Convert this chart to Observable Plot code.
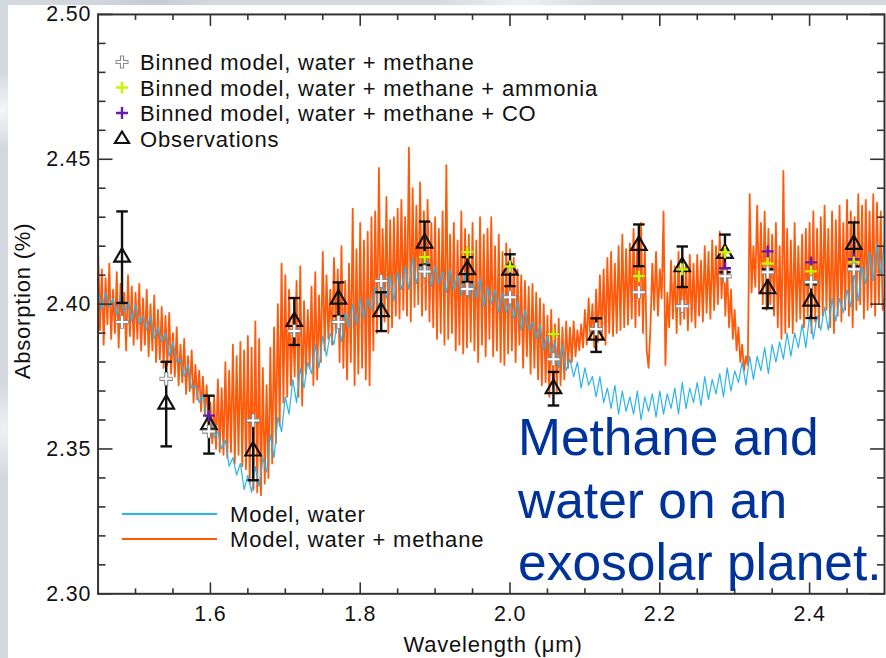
<!DOCTYPE html>
<html>
<head>
<meta charset="utf-8">
<script src="https://cdn.jsdelivr.net/npm/d3@7"></script>
<script src="https://cdn.jsdelivr.net/npm/@observablehq/plot@0.6"></script>
<style>
html, body { margin:0; padding:0; width:886px; height:658px; overflow:hidden; }
body { position:relative; background:#d3d8de;
  background-image:
    radial-gradient(circle at 2px 110px, #f4f5f7 0, rgba(255,255,255,0) 40px),
    radial-gradient(circle at 4px 430px, #eef0f3 0, rgba(255,255,255,0) 50px),
    radial-gradient(circle at 520px 0px, #eef1f4 0, rgba(255,255,255,0) 90px),
    radial-gradient(circle at 150px 2px, #c4cbd3 0, rgba(255,255,255,0) 60px);
  font-family: "Liberation Sans", Arial, sans-serif; }
#panel { position:absolute; left:8px; top:5px; right:0; bottom:0; background:#fff; }
#chart { position:absolute; left:0; top:0; }
#overlay { position:absolute; left:0; top:0; }
</style>
</head>
<body>
<div id="panel"></div>
<div id="chart"></div>
<svg id="overlay" width="886" height="658" xmlns="http://www.w3.org/2000/svg">
  <g font-family="Liberation Sans, Arial, sans-serif" font-size="22" letter-spacing="0.8" fill="#111">
    <text x="140" y="70">Binned model, water + methane</text>
    <text x="140" y="95.5">Binned model, water + methane + ammonia</text>
    <text x="140" y="121">Binned model, water + methane + CO</text>
    <text x="140" y="146.5">Observations</text>
    <text x="230" y="522">Model, water</text>
    <text x="230" y="547">Model, water + methane</text>
    <text x="493" y="652" text-anchor="middle">Wavelength (μm)</text>
    <text transform="translate(30,301) rotate(-90)" text-anchor="middle">Absorption (%)</text>
  </g>
  <path d="M115.5,62H128.5M122,55.5V68.5" stroke="#8c8c8c" stroke-width="4.2" fill="none"/>
  <path d="M116.5,62H127.5M122,56.5V67.5" stroke="#fff" stroke-width="2" fill="none"/>
  <path d="M116,87.5H128M122,81.5V93.5" stroke="#c8f500" stroke-width="2.4" fill="none"/>
  <path d="M116,113H128M122,107V119" stroke="#6a1aa8" stroke-width="2.4" fill="none"/>
  <path d="M122,131.5L129,143L115,143Z" stroke="#111" stroke-width="2.2" fill="none"/>
  <line x1="122" y1="514" x2="217" y2="514" stroke="#2ab4ee" stroke-width="2"/>
  <line x1="122" y1="539" x2="217" y2="539" stroke="#ff5a0a" stroke-width="2"/>
  <g font-family="Liberation Sans, Arial, sans-serif" font-size="51.5" fill="#003399">
    <text x="518" y="455">Methane and</text>
    <text x="518" y="518">water on an</text>
    <text x="518" y="580">exosolar planet.</text>
  </g>
</svg>
<script>
// ---- Data ----
// Model, water: sampled every 0.005 µm from 1.45 µm
const waterStart = 1.45;
const waterStep = 0.005;
const waterModel = [
  2.405,2.398,2.404,2.399,2.402,2.396,2.403,2.397,2.401,2.394,
  2.400,2.393,2.396,2.391,2.396,2.388,2.392,2.387,2.390,2.382,
  2.387,2.380,2.381,2.375,2.379,2.371,2.372,2.366,2.369,2.360,
  2.362,2.354,2.356,2.350,2.353,2.344,2.347,2.341,2.345,2.336,
  2.341,2.335,2.344,2.337,2.347,2.342,2.355,2.347,2.361,2.356,
  2.368,2.362,2.374,2.366,2.378,2.371,2.380,2.376,2.386,2.378,
  2.389,2.382,2.390,2.386,2.395,2.387,2.397,2.392,2.400,2.393,
  2.402,2.395,2.402,2.398,2.406,2.398,2.407,2.402,2.410,2.401,
  2.411,2.405,2.413,2.405,2.416,2.407,2.414,2.409,2.415,2.406,
  2.413,2.407,2.411,2.404,2.412,2.405,2.410,2.403,2.411,2.402,
  2.408,2.402,2.409,2.399,2.406,2.400,2.405,2.397,2.404,2.397,
  2.401,2.395,2.401,2.391,2.398,2.391,2.394,2.388,2.393,2.384,
  2.389,2.383,2.387,2.378,2.386,2.377,2.381,2.375,2.380,2.371,
  2.378,2.372,2.375,2.368,2.375,2.366,2.371,2.364,2.372,2.362,
  2.370,2.363,2.368,2.362,2.370,2.360,2.368,2.363,2.369,2.361,
  2.370,2.362,2.369,2.364,2.371,2.362,2.373,2.364,2.371,2.366,
  2.373,2.365,2.375,2.367,2.374,2.369,2.376,2.368,2.378,2.370,
  2.377,2.373,2.380,2.372,2.382,2.374,2.382,2.377,2.385,2.376,
  2.386,2.380,2.387,2.381,2.390,2.382,2.390,2.385,2.393,2.385,
  2.396,2.388,2.396,2.391,2.399,2.391,2.402,2.394,2.402,2.397,
  2.405,2.399,2.411,2.401,2.413,2.407,2.418,2.408,2.421,2.410,
  2.422
];

// Model, water + methane: sampled every 0.0025 µm from 1.45 µm
const methaneStart = 1.45;
const methaneStep = 0.0025;
const waterMethaneModel = [
  2.420,2.391,2.412,2.386,2.409,2.393,2.414,2.388,2.405,2.390,2.411,2.385,2.407,2.392,2.404,2.384,2.410,2.389,2.406,2.386,
  2.404,2.388,2.407,2.384,2.402,2.386,2.405,2.382,2.400,2.384,2.403,2.380,2.398,2.381,2.399,2.378,2.396,2.379,2.397,2.376,
  2.390,2.375,2.392,2.372,2.386,2.373,2.388,2.369,2.382,2.370,2.384,2.366,2.379,2.367,2.377,2.363,2.375,2.362,2.372,2.357,
  2.366,2.352,2.368,2.350,2.374,2.349,2.371,2.348,2.380,2.347,2.377,2.349,2.386,2.345,2.382,2.348,2.387,2.344,2.384,2.343,
  2.389,2.338,2.385,2.336,2.394,2.335,2.388,2.334,2.378,2.338,2.372,2.340,2.385,2.345,2.392,2.352,2.400,2.358,2.414,2.366,
  2.410,2.368,2.405,2.372,2.396,2.375,2.408,2.368,2.413,2.365,2.401,2.376,2.398,2.378,2.406,2.372,2.411,2.374,2.403,2.380,
  2.418,2.384,2.410,2.388,2.405,2.386,2.416,2.390,2.412,2.380,2.420,2.378,2.408,2.374,2.414,2.380,2.433,2.372,2.419,2.376,
  2.428,2.378,2.422,2.374,2.425,2.372,2.430,2.384,2.432,2.390,2.447,2.392,2.426,2.394,2.437,2.390,2.429,2.392,2.430,2.396,
  2.433,2.395,2.436,2.398,2.430,2.396,2.454,2.394,2.440,2.399,2.434,2.400,2.442,2.396,2.432,2.398,2.436,2.394,2.428,2.392,
  2.430,2.388,2.426,2.390,2.432,2.386,2.448,2.388,2.424,2.390,2.428,2.384,2.422,2.386,2.432,2.383,2.426,2.385,2.424,2.387,
  2.428,2.384,2.422,2.380,2.430,2.386,2.424,2.382,2.426,2.388,2.430,2.382,2.420,2.384,2.424,2.380,2.418,2.379,2.421,2.383,
  2.419,2.384,2.416,2.380,2.412,2.386,2.410,2.378,2.408,2.382,2.406,2.376,2.407,2.378,2.404,2.374,2.402,2.372,2.400,2.373,
  2.396,2.368,2.398,2.371,2.393,2.369,2.395,2.372,2.392,2.374,2.394,2.378,2.392,2.380,2.394,2.382,2.391,2.384,2.393,2.385,
  2.398,2.386,2.402,2.388,2.400,2.385,2.405,2.387,2.410,2.388,2.412,2.386,2.416,2.390,2.418,2.389,2.414,2.390,2.420,2.391,
  2.424,2.392,2.419,2.393,2.421,2.395,2.426,2.392,2.422,2.396,2.428,2.390,2.420,2.384,2.378,2.392,2.414,2.398,2.418,2.396,
  2.412,2.402,2.432,2.379,2.404,2.392,2.415,2.395,2.413,2.390,2.418,2.393,2.416,2.395,2.414,2.391,2.417,2.394,2.414,2.392,
  2.417,2.396,2.415,2.394,2.420,2.397,2.418,2.395,2.422,2.398,2.420,2.400,2.425,2.402,2.420,2.396,2.412,2.392,2.405,2.388,
  2.398,2.384,2.392,2.380,2.386,2.377,2.382,2.379,2.438,2.404,2.420,2.406,2.434,2.404,2.428,2.400,2.432,2.398,2.426,2.400,
  2.424,2.396,2.428,2.392,2.420,2.388,2.446,2.390,2.426,2.392,2.422,2.390,2.428,2.394,2.420,2.395,2.424,2.392,2.426,2.396,
  2.428,2.390,2.432,2.394,2.426,2.392,2.430,2.396,2.434,2.398,2.426,2.392,2.432,2.390,2.429,2.396,2.434,2.394,2.428,2.398,
  2.436,2.396,2.432,2.392,2.430,2.398,2.438,2.400,2.434,2.395,2.436,2.398,2.432,2.399,2.438,2.396,2.435,2.400,2.432,2.398,
  2.402
];

// Binned points / observations (wavelength, µm)
const binWavelength = [1.482,1.541,1.598,1.657,1.712,1.771,1.828,1.886,1.943,2.000,2.058,2.115,2.172,2.230,2.287,2.344,2.402,2.459];
const binnedWaterMethane = [2.3938,2.3742,2.3560,2.3598,2.3907,2.3938,2.4080,2.4113,2.4052,2.4024,2.3810,2.3914,2.4041,2.3993,2.4096,2.4110,2.4076,2.4120];
const binnedAmmonia      = [2.3938,2.3742,2.3560,2.3598,2.3907,2.3938,2.4080,2.4162,2.4179,2.4130,2.3897,2.3914,2.4096,2.4120,2.4179,2.4140,2.4113,2.4144];
const binnedCO           = [2.3938,2.3742,2.3615,2.3598,2.3907,2.3938,2.4080,2.4162,2.4179,2.4130,2.3897,2.3914,2.4096,2.4120,2.4124,2.4182,2.4144,2.4155];
const obsValue = [2.4162,2.3655,2.3584,2.3493,2.3940,2.4017,2.3974,2.4210,2.4119,2.4117,2.3708,2.3893,2.4203,2.4129,2.4175,2.4053,2.4010,2.4206];
const obsError = [0.0158,0.0146,0.0100,0.0101,0.0081,0.0058,0.0067,0.0075,0.0043,0.0055,0.0058,0.0058,0.0072,0.0070,0.0065,0.0067,0.0058,0.0076];

// Axis ticks
const xMajor = [1.6,1.8,2.0,2.2,2.4];
const xMinor = [1.5,1.55,1.65,1.7,1.75,1.85,1.9,1.95,2.05,2.1,2.15,2.25,2.3,2.35,2.45];
const yMajor = [2.30,2.35,2.40,2.45,2.50];
const yMinor = [2.31,2.32,2.33,2.34,2.36,2.37,2.38,2.39,2.41,2.42,2.43,2.44,2.46,2.47,2.48,2.49];

// ---- Build tables ----
const water = waterModel.map((v, i) => ({w: waterStart + i * waterStep, v}));
const waterMethane = waterMethaneModel.map((v, i) => ({w: methaneStart + i * methaneStep, v}));
const bins = binWavelength.map((w, i) => ({
  w, wm: binnedWaterMethane[i], am: binnedAmmonia[i], co: binnedCO[i],
  obs: obsValue[i], lo: obsValue[i] - obsError[i], hi: obsValue[i] + obsError[i]
}));
const caps = bins.flatMap(d => [{w: d.w, v: d.lo}, {w: d.w, v: d.hi}]);

// custom symbols: r is the half-length of the arms in pixels
const capSymbol = {draw(ctx, size) { const r = Math.sqrt(size / Math.PI); ctx.moveTo(-r, 0); ctx.lineTo(r, 0); }};
const plusSymbol = {draw(ctx, size) { const r = Math.sqrt(size / Math.PI); ctx.moveTo(-r, 0); ctx.lineTo(r, 0); ctx.moveTo(0, -r); ctx.lineTo(0, r); }};

const axisColor = "#333";
const chart = Plot.plot({
  width: 890, height: 658,
  marginLeft: 98, marginRight: 2, marginTop: 14, marginBottom: 62,
  style: {background: "transparent", fontFamily: "Liberation Sans, Arial, sans-serif", fontSize: "21.5px", color: "#111", letterSpacing: "0.8px", overflow: "visible"},
  x: {domain: [1.45, 2.5]},
  y: {domain: [2.30, 2.50]},
  marks: [
    Plot.line(waterMethane, {x: "w", y: "v", stroke: "#ff5a0a", strokeWidth: 1.8}),
    Plot.line(water, {x: "w", y: "v", stroke: "#2ab4ee", strokeWidth: 1.2}),
    Plot.ruleX(bins, {x: "w", y1: "lo", y2: "hi", stroke: "#111", strokeWidth: 2.4}),
    Plot.dot(caps, {x: "w", y: "v", symbol: capSymbol, r: 5.8, stroke: "#111", strokeWidth: 2.4, fill: "none"}),
    Plot.dot(bins, {x: "w", y: "obs", symbol: "triangle", r: 5.8, stroke: "#111", strokeWidth: 2.2, fill: "none"}),
    Plot.dot(bins, {x: "w", y: "co", symbol: plusSymbol, r: 6, stroke: "#6a1aa8", strokeWidth: 2.4, fill: "none"}),
    Plot.dot(bins, {x: "w", y: "am", symbol: plusSymbol, r: 6, stroke: "#c8f500", strokeWidth: 2.4, fill: "none"}),
    Plot.dot(bins, {x: "w", y: "wm", symbol: plusSymbol, r: 6.8, stroke: "#8c8c8c", strokeWidth: 4.2, fill: "none"}),
    Plot.dot(bins, {x: "w", y: "wm", symbol: plusSymbol, r: 6, stroke: "#ffffff", strokeWidth: 2, fill: "none"}),
    Plot.frame({stroke: axisColor, strokeWidth: 2}),
    Plot.axisX(xMajor, {anchor: "bottom", tickSize: -11, stroke: axisColor, strokeWidth: 1.6, fill: "none", label: null}),
    Plot.axisX(xMinor, {anchor: "bottom", tickSize: -5, stroke: axisColor, strokeWidth: 1.6, fill: "none", label: null}),
    Plot.axisX(xMajor, {anchor: "bottom", tickSize: 0, tickPadding: 12, tickFormat: d3.format(".1f"), label: null}),
    Plot.axisX(xMajor, {anchor: "top", tickSize: -11, stroke: axisColor, strokeWidth: 1.6, fill: "none", label: null}),
    Plot.axisX(xMinor, {anchor: "top", tickSize: -5, stroke: axisColor, strokeWidth: 1.6, fill: "none", label: null}),
    Plot.axisY(yMajor, {anchor: "left", tickSize: -15, stroke: axisColor, strokeWidth: 1.6, fill: "none", label: null}),
    Plot.axisY(yMinor, {anchor: "left", tickSize: -8, stroke: axisColor, strokeWidth: 1.6, fill: "none", label: null}),
    Plot.axisY(yMajor, {anchor: "left", tickSize: 0, tickPadding: 7, tickFormat: d3.format(".2f"), label: null}),
    Plot.axisY(yMajor, {anchor: "right", tickSize: -15, stroke: axisColor, strokeWidth: 1.6, fill: "none", label: null}),
    Plot.axisY(yMinor, {anchor: "right", tickSize: -8, stroke: axisColor, strokeWidth: 1.6, fill: "none", label: null})
  ]
});
document.getElementById("chart").appendChild(chart);
</script>
</body>
</html>
